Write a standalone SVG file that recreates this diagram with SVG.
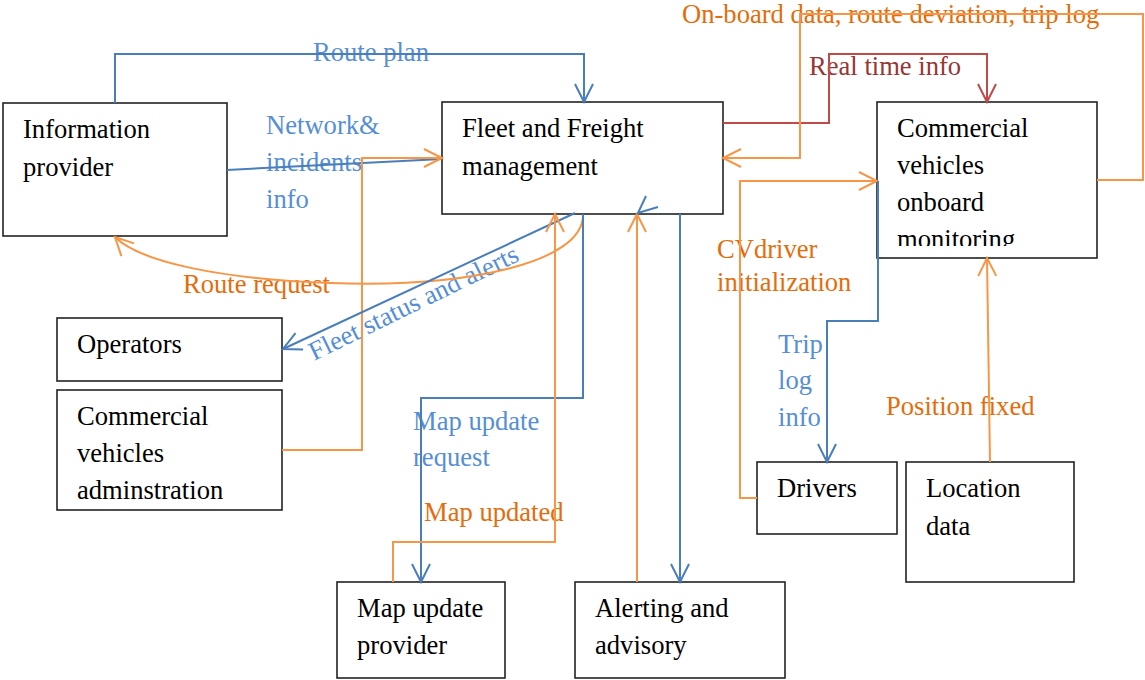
<svg xmlns="http://www.w3.org/2000/svg" width="1145" height="680" viewBox="0 0 1145 680" font-family="'Liberation Serif', 'DejaVu Serif', serif">
  <style>
    .box { fill: #ffffff; stroke: #222222; stroke-width: 1.6; }
    text { font-family: 'Liberation Serif', 'DejaVu Serif', serif; font-size: 26.6px; }
    .nt { fill: #000000; }
    .blue-t { fill: #558ed5; }
    .orange-t { fill: #e46c0a; }
    .red-t { fill: #953735; }
    .c { fill: none; stroke-width: 2; }
    .blue { stroke: #4a7ebb; }
    .orange { stroke: #f79646; }
    .red { stroke: #be4b48; }
  </style>
  <defs>
    <marker id="ah-blue" markerUnits="userSpaceOnUse" markerWidth="24" markerHeight="24" viewBox="-20 -12 24 24" refX="0" refY="0" orient="auto">
      <path d="M-18,-9 L0,0 L-18,9" fill="none" stroke="#4a7ebb" stroke-width="2"/>
    </marker>
    <marker id="ah-orange" markerUnits="userSpaceOnUse" markerWidth="24" markerHeight="24" viewBox="-20 -12 24 24" refX="0" refY="0" orient="auto">
      <path d="M-18,-9 L0,0 L-18,9" fill="none" stroke="#f79646" stroke-width="2"/>
    </marker>
    <marker id="ah-red" markerUnits="userSpaceOnUse" markerWidth="24" markerHeight="24" viewBox="-20 -12 24 24" refX="0" refY="0" orient="auto">
      <path d="M-18,-9 L0,0 L-18,9" fill="none" stroke="#be4b48" stroke-width="2"/>
    </marker>
    <clipPath id="cv-clip">
      <rect x="877" y="102" width="220" height="144"/>
    </clipPath>
  </defs>

  <!-- Nodes -->
  <g id="information-provider">
    <rect class="box" x="3" y="103" width="224" height="133"/>
    <text class="nt" x="23" y="138">Information</text>
    <text class="nt" x="23" y="176">provider</text>
  </g>
  <g id="fleet-freight-management">
    <rect class="box" x="442" y="102" width="281" height="112"/>
    <text class="nt" x="462" y="137">Fleet and Freight</text>
    <text class="nt" x="462" y="175">management</text>
  </g>
  <g id="cv-onboard-monitoring">
    <rect class="box" x="877" y="102" width="220" height="156"/>
    <g clip-path="url(#cv-clip)">
      <text class="nt" x="897" y="137">Commercial</text>
      <text class="nt" x="897" y="174">vehicles</text>
      <text class="nt" x="897" y="211">onboard</text>
      <text class="nt" x="897" y="248">monitoring</text>
    </g>
  </g>
  <g id="operators">
    <rect class="box" x="57" y="318" width="225" height="63"/>
    <text class="nt" x="77" y="353">Operators</text>
  </g>
  <g id="cv-administration">
    <rect class="box" x="57" y="390" width="225" height="120"/>
    <text class="nt" x="77" y="425">Commercial</text>
    <text class="nt" x="77" y="462">vehicles</text>
    <text class="nt" x="77" y="499">adminstration</text>
  </g>
  <g id="map-update-provider">
    <rect class="box" x="337" y="582" width="168" height="96"/>
    <text class="nt" x="357" y="617">Map update</text>
    <text class="nt" x="357" y="654">provider</text>
  </g>
  <g id="alerting-advisory">
    <rect class="box" x="575" y="582" width="210" height="96"/>
    <text class="nt" x="595" y="617">Alerting and</text>
    <text class="nt" x="595" y="654">advisory</text>
  </g>
  <g id="drivers">
    <rect class="box" x="757" y="462" width="140" height="72"/>
    <text class="nt" x="777" y="497">Drivers</text>
  </g>
  <g id="location-data">
    <rect class="box" x="906" y="462" width="168" height="120"/>
    <text class="nt" x="926" y="497">Location</text>
    <text class="nt" x="926" y="535">data</text>
  </g>

  <!-- Connector labels -->
  <g id="labels">
    <text class="blue-t" x="313" y="61">Route plan</text>
    <text class="blue-t" x="266" y="134">Network&amp;</text>
    <text class="blue-t" x="266" y="171">incidents</text>
    <text class="blue-t" x="266" y="208">info</text>
    <text class="orange-t" x="183" y="293">Route request</text>
    <text class="blue-t" x="314" y="361" transform="rotate(-26 314 361)">Fleet status and alerts</text>
    <text class="blue-t" x="413" y="430">Map update</text>
    <text class="blue-t" x="413" y="466">request</text>
    <text class="orange-t" x="424" y="521">Map updated</text>
    <text class="orange-t" x="682" y="23">On-board data, route deviation, trip log</text>
    <text class="red-t" x="809" y="75">Real time info</text>
    <text class="orange-t" x="717" y="258">CVdriver</text>
    <text class="orange-t" x="717" y="291">initialization</text>
    <text class="blue-t" x="778" y="353">Trip</text>
    <text class="blue-t" x="778" y="389">log</text>
    <text class="blue-t" x="778" y="426">info</text>
    <text class="orange-t" x="886" y="415">Position fixed</text>
  </g>

  <!-- Connectors -->
  <g id="connectors">
    <!-- Route plan -->
    <polyline class="c blue" points="115,103 115,54 584,54 584,102" marker-end="url(#ah-blue)"/>
    <!-- Network & incidents info -->
    <line class="c blue" x1="227" y1="170" x2="442" y2="159"/>
    <!-- CV administration to fleet management -->
    <polyline class="c orange" points="282,450 362,450 362,158 442,158" marker-end="url(#ah-orange)"/>
    <!-- Route request -->
    <path class="c orange" d="M583,215 C583,262 470,288 330,283 C220,279 140,262 115,237" marker-end="url(#ah-orange)"/>
    <!-- Fleet status and alerts -->
    <line class="c blue" x1="575" y1="213" x2="283" y2="349" marker-end="url(#ah-blue)"/>
    <!-- Map update request -->
    <polyline class="c blue" points="583,214 583,398 421,398 421,582" marker-end="url(#ah-blue)"/>
    <!-- Map updated -->
    <polyline class="c orange" points="393,582 393,542 555,542 555,214" marker-end="url(#ah-orange)"/>
    <!-- Alerting and advisory to fleet management -->
    <line class="c orange" x1="637" y1="582" x2="637" y2="214" marker-end="url(#ah-orange)"/>
    <path class="c blue" d="M646,196 L638,213 L658,207"/>
    <!-- Fleet management to alerting and advisory -->
    <line class="c blue" x1="680" y1="214" x2="680" y2="582" marker-end="url(#ah-blue)"/>
    <!-- Real time info -->
    <polyline class="c red" points="723,123 829,123 829,54 987,54 987,102" marker-end="url(#ah-red)"/>
    <!-- On-board data, route deviation, trip log -->
    <polyline class="c orange" points="1097,180 1143,180 1143,14 800,14 800,158 723,158" marker-end="url(#ah-orange)"/>
    <!-- CV driver initialization -->
    <polyline class="c orange" points="757,498 740,498 740,181 877,181" marker-end="url(#ah-orange)"/>
    <!-- Trip log info -->
    <polyline class="c blue" points="878,181 878,321 827,321 827,462" marker-end="url(#ah-blue)"/>
    <!-- Position fixed -->
    <line class="c orange" x1="990" y1="462" x2="987" y2="258" marker-end="url(#ah-orange)"/>
  </g>
</svg>
